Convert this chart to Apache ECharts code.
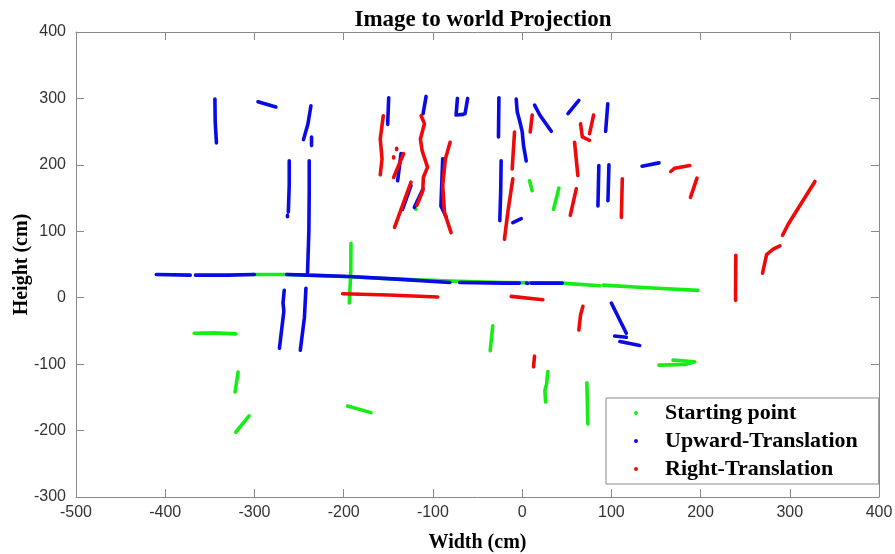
<!DOCTYPE html>
<html>
<head>
<meta charset="utf-8">
<title>Image to world Projection</title>
<script src="https://cdn.jsdelivr.net/npm/echarts@6/dist/echarts.min.js"></script>
<style>
  html, body { margin: 0; padding: 0; background: #fff; }
  #main { width: 895px; height: 554px; }
</style>
</head>
<body>
<div id="main"></div>
<script>
// axis ticks
var xTicks = [-500, -400, -300, -200, -100, 0, 100, 200, 300, 400];
var yTicks = [-300, -200, -100, 0, 100, 200, 300, 400];

// legend names
var seriesNames = ['Starting point', 'Upward-Translation', 'Right-Translation'];

// each stroke is a list of [width, height] points
var startPoint = [
  [[-302, 35], [-265, 35], [-200, 32], [-140, 28], [-80, 25], [-20, 23], [44, 22], [87, 18]],
  [[91, 19], [140, 15], [197, 11]],
  [[-191.8, 82], [-192, 40], [-193.7, -8]],
  [[-367.6, -53.5], [-345, -53], [-320.9, -54.5]],
  [[-318.3, -111.7], [-321.7, -142]],
  [[-306, -178], [-321, -202.5]],
  [[-195.6, -163], [-169.4, -173]],
  [[-32.9, -42.4], [-35.8, -79.8]],
  [[28.8, -111], [27.5, -130], [25.5, -140], [26.3, -157]],
  [[72.6, -128], [73.7, -190]],
  [[153.4, -101.5], [182.3, -100.5], [193.5, -96.5], [169.1, -94]],
  [[8.3, 176], [11.3, 161]],
  [[41.2, 165], [35.2, 133]],
  [[-120.4, 136], [-119, 133]]
];

var upward = [
  [[-410, 35], [-372, 34]],
  [[-366, 34], [-330, 34], [-300, 35]],
  [[-264, 35], [-240, 34], [-194, 32], [-140, 28], [-81, 23]],
  [[-70, 23], [-20, 22], [-3, 22]],
  [[5, 22], [6, 21.5]],
  [[10, 22], [45, 22]],
  [[-240.5, 38], [-239, 100], [-238.6, 160], [-238.6, 206]],
  [[-236, 242], [-236, 229]],
  [[-236.7, 289], [-240, 262], [-245, 238]],
  [[-261, 206], [-261, 170], [-262, 129]],
  [[-263, 124], [-263, 122]],
  [[-344.3, 299], [-344, 265], [-342.6, 233]],
  [[-296, 295], [-276, 287]],
  [[-266.6, 11], [-268, -8], [-267, -20], [-272, -76]],
  [[-242.3, 14], [-244, -30], [-248.6, -79]],
  [[-149.5, 301], [-150.7, 261]],
  [[-107.6, 303], [-111, 277]],
  [[-72.5, 300], [-74, 275], [-66, 276]],
  [[-61, 300], [-64, 277]],
  [[-26, 301], [-26.5, 242]],
  [[-23.5, 206], [-24, 160], [-25, 116]],
  [[-135.7, 217], [-139.5, 176]],
  [[-124.5, 169], [-134, 133]],
  [[-111, 164], [-120.8, 136]],
  [[-89, 209], [-91, 138], [-85, 121]],
  [[-6.6, 299], [-5.5, 280], [-2.9, 267], [0.1, 250], [1.6, 229], [4.6, 206]],
  [[14, 290], [19.8, 275], [32.7, 250.5]],
  [[51.4, 277], [63.6, 297]],
  [[96, 292], [93.6, 250.5]],
  [[86, 199], [85, 138]],
  [[97.3, 200], [96.2, 146]],
  [[-10.4, 113], [-1, 119]],
  [[134.4, 198], [153.4, 203]],
  [[100, -8], [116.8, -53.5]],
  [[103.7, -57.6], [116.8, -59.5]],
  [[109.6, -66], [131.8, -72]]
];

var rightward = [
  [[-155.6, 274], [-159, 239], [-157, 209], [-159, 185]],
  [[-140.6, 225], [-140.6, 223]],
  [[-144, 212], [-144, 210.5]],
  [[-132.8, 217], [-144, 181]],
  [[-113.2, 274], [-109.5, 262], [-114, 239], [-112, 221], [-106, 196.5], [-110.7, 181], [-111.3, 161], [-118, 139]],
  [[-124.5, 174], [-143, 106]],
  [[-80.7, 234], [-86, 209], [-89, 169], [-87, 128], [-79.6, 98]],
  [[-10.4, 179], [-16, 129], [-19.8, 88]],
  [[-8.5, 249.5], [-11.1, 194]],
  [[11.3, 275], [9.1, 249.5]],
  [[65.2, 270], [65.2, 269]],
  [[65.5, 262], [67.5, 242], [75.6, 237]],
  [[80.1, 275], [75.6, 247]],
  [[58.8, 234], [62.5, 184]],
  [[60.7, 164], [54, 124]],
  [[112.3, 179], [111.2, 121]],
  [[166.6, 190], [171, 195], [187.9, 199]],
  [[196, 180], [188.7, 151]],
  [[239.5, 64], [239.2, -4]],
  [[269.5, 37], [274, 65], [281.4, 73], [288.9, 78]],
  [[291.9, 94], [298.2, 110.6], [328.2, 175]],
  [[-201.2, 6], [-150, 4], [-94.6, 1]],
  [[-12.2, 2], [23.2, -3]],
  [[68.1, -13], [65.5, -26], [63.6, -48.5]],
  [[13.9, -88], [12.8, -104]]
];

// strokes -> one data list, null breaks the line between strokes
function strokes(list) {
  var out = [];
  list.forEach(function (s) {
    s.forEach(function (p) { out.push(p); });
    out.push(null);
  });
  return out;
}

var colors = ['#16ec16', '#0a0ae6', '#ee0a0a'];
var tickFont = "'Liberation Sans Narrow', 'Liberation Sans', Arial, sans-serif";
var serif = "'Liberation Serif', 'Times New Roman', serif";

function lineSeries(name, color, list) {
  return {
    name: name,
    type: 'line',
    data: strokes(list),
    showSymbol: false,
    connectNulls: false,
    silent: true,
    color: color,
    lineStyle: { width: 3.6, color: color, cap: 'round', join: 'round' }
  };
}

var axisCommon = {
  type: 'value',
  interval: 100,
  axisLine: { show: true, onZero: false, lineStyle: { color: '#8a8a8a', width: 1 } },
  axisTick: { show: true, inside: true, length: 8, lineStyle: { color: '#8a8a8a' } },
  splitLine: { show: false }
};

var chart = echarts.init(document.getElementById('main'));
chart.setOption({
  animation: false,
  backgroundColor: '#fff',
  title: {
    text: 'Image to world Projection',
    left: 478,
    textAlign: 'center',
    top: 4,
    textStyle: { fontFamily: serif, fontWeight: 'bold', fontSize: 23, color: '#000' }
  },
  grid: { left: 76, right: 16, top: 32, bottom: 57, outerBoundsMode: 'none' },
  legend: {
    orient: 'vertical',
    left: 606,
    top: 398,
    icon: 'circle',
    itemWidth: 4,
    itemHeight: 4,
    itemGap: 6,
    padding: [4, 21, 4, 28],
    borderColor: '#8a8a8a',
    borderWidth: 1,
    backgroundColor: '#fff',
    data: seriesNames,
    textStyle: {
      fontFamily: serif, fontWeight: 'bold', fontSize: 22, color: '#000',
      lineHeight: 22, padding: [0, 0, 0, 22]
    }
  },
  xAxis: [
    Object.assign({}, axisCommon, {
      min: xTicks[0], max: xTicks[xTicks.length - 1], position: 'bottom',
      name: 'Width (cm)', nameLocation: 'middle', nameGap: 36,
      nameTextStyle: { fontFamily: serif, fontWeight: 'bold', fontSize: 20, color: '#000' },
      axisLabel: { fontFamily: tickFont, fontSize: 16, color: '#333', margin: 8 }
    }),
    Object.assign({}, axisCommon, {
      min: xTicks[0], max: xTicks[xTicks.length - 1], position: 'top',
      axisLabel: { show: false }
    })
  ],
  yAxis: [
    Object.assign({}, axisCommon, {
      min: yTicks[0], max: yTicks[yTicks.length - 1], position: 'left',
      name: 'Height (cm)', nameLocation: 'middle', nameGap: 44, nameMoveOverlap: false,
      nameTextStyle: { fontFamily: serif, fontWeight: 'bold', fontSize: 20, color: '#000' },
      axisLabel: { fontFamily: tickFont, fontSize: 16, color: '#333', margin: 10 }
    }),
    Object.assign({}, axisCommon, {
      min: yTicks[0], max: yTicks[yTicks.length - 1], position: 'right',
      axisLabel: { show: false }
    })
  ],
  series: [
    lineSeries(seriesNames[0], colors[0], startPoint),
    lineSeries(seriesNames[1], colors[1], upward),
    lineSeries(seriesNames[2], colors[2], rightward)
  ]
});
</script>
</body>
</html>
